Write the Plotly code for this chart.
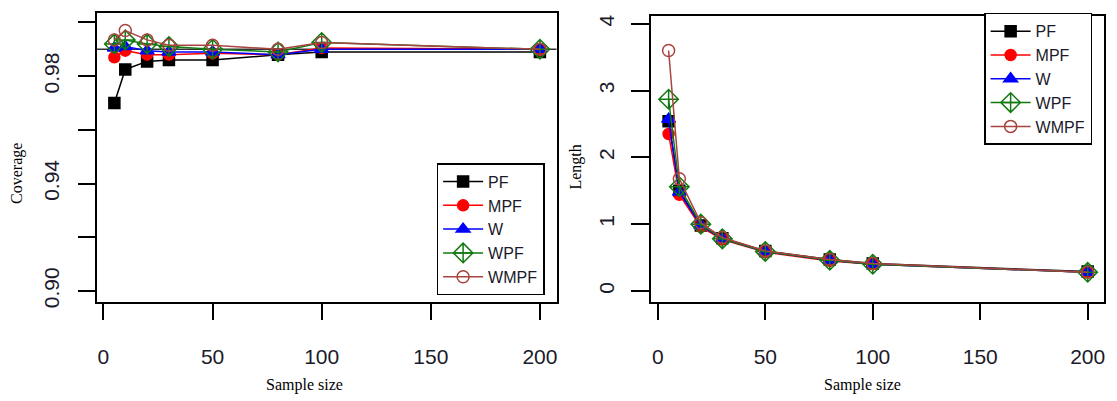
import plotly.graph_objects as go

# ---- data ----
sample_size = [5, 10, 20, 30, 50, 80, 100, 200]
methods = ["PF", "MPF", "W", "WPF", "WMPF"]

cov_PF = [0.970, 0.9825, 0.9855, 0.986, 0.986, 0.988, 0.989, 0.989]
cov_MPF = [0.987, 0.9895, 0.988, 0.988, 0.9885, 0.988, 0.9905, 0.990]
cov_W = [0.9905, 0.991, 0.9895, 0.989, 0.989, 0.988, 0.990, 0.990]
cov_WPF = [0.992, 0.9935, 0.992, 0.991, 0.990, 0.989, 0.9925, 0.990]
cov_WMPF = [0.9935, 0.997, 0.9935, 0.9915, 0.9915, 0.990, 0.9925, 0.990]

len_PF = [2.54, 1.50, 0.98, 0.79, 0.60, 0.47, 0.41, 0.29]
len_MPF = [2.35, 1.44, 0.96, 0.77, 0.58, 0.45, 0.40, 0.28]
len_W = [2.57, 1.48, 0.98, 0.78, 0.59, 0.46, 0.40, 0.28]
len_WPF = [2.87, 1.56, 1.00, 0.78, 0.59, 0.46, 0.40, 0.28]
len_WMPF = [3.60, 1.68, 1.02, 0.80, 0.60, 0.47, 0.41, 0.28]

nominal = 0.99

cov_ticks = [0.90, 0.92, 0.94, 0.96, 0.98, 1.00]
cov_ticktext = ["0.90", "", "0.94", "", "0.98", ""]
len_ticks = [0, 1, 2, 3, 4]
x_ticks = [0, 50, 100, 150, 200]

# ---- styles ----
colors = ["#000000", "#ff0000", "#0000ff", "#117a11", "#a8443f"]
symbols = ["square", "circle", "triangle-up", "diamond-cross-open", "circle-open"]
sizes = [11, 11, 12, 15, 12]

coverage = [cov_PF, cov_MPF, cov_W, cov_WPF, cov_WMPF]
length = [len_PF, len_MPF, len_W, len_WPF, len_WMPF]

fig = go.Figure()

for i, m in enumerate(methods):
    fig.add_trace(go.Scatter(
        x=sample_size, y=coverage[i], mode="lines+markers", name=m,
        line=dict(color=colors[i], width=1.5),
        marker=dict(symbol=symbols[i], size=sizes[i], color=colors[i],
                    line=dict(color=colors[i], width=1.5)),
        xaxis="x", yaxis="y", legend="legend"))

for i, m in enumerate(methods):
    fig.add_trace(go.Scatter(
        x=sample_size, y=length[i], mode="lines+markers", name=m,
        line=dict(color=colors[i], width=1.5),
        marker=dict(symbol=symbols[i], size=sizes[i], color=colors[i],
                    line=dict(color=colors[i], width=1.5)),
        xaxis="x2", yaxis="y2", legend="legend2"))

W, H = 1117, 401
tickfont = dict(family="Liberation Sans, Arial", size=21, color="#1a1a2a")

axis_common = dict(showgrid=False, zeroline=False, showline=True, mirror=True,
                   linecolor="black", linewidth=1.5, ticks="outside",
                   tickcolor="black", tickwidth=1.5, tickfont=tickfont)

fig.add_shape(type="line", xref="x domain", yref="y", x0=0, x1=1,
              y0=nominal, y1=nominal, line=dict(color="#333333", width=1.5),
              layer="below")

legend_font = dict(family="Liberation Sans, Arial", size=16, color="#1a1a2a")

fig.update_layout(
    width=W, height=H,
    margin=dict(l=0, r=0, t=0, b=0),
    paper_bgcolor="white", plot_bgcolor="white",
    xaxis=dict(domain=[97 / W, 557 / W], range=[-3, 207.6], tickvals=x_ticks,
               ticklen=17, ticklabelstandoff=18, anchor="y", **axis_common),
    yaxis=dict(domain=[(H - 306) / H, (H - 12) / H], range=[0.896, 1.0036],
               tickvals=cov_ticks, ticktext=cov_ticktext, tickangle=-90,
               ticklen=17, ticklabelstandoff=11, anchor="x", **axis_common),
    xaxis2=dict(domain=[652 / W, 1105 / W], range=[-3, 207.6], tickvals=x_ticks,
                ticklen=17, ticklabelstandoff=18, anchor="y2", **axis_common),
    yaxis2=dict(domain=[(H - 306) / H, (H - 15) / H], range=[-0.16, 4.12],
                tickvals=len_ticks, tickangle=-90, ticklen=19,
                ticklabelstandoff=8, anchor="x2", **axis_common),
    legend=dict(x=437 / W, y=(H - 165) / H, xanchor="left", yanchor="top",
                bordercolor="black", borderwidth=1.5, bgcolor="white",
                font=legend_font, tracegroupgap=0, itemwidth=40),
    legend2=dict(x=985 / W, y=(H - 12) / H, xanchor="left", yanchor="top",
                 bordercolor="black", borderwidth=1.5, bgcolor="white",
                 font=legend_font, tracegroupgap=0, itemwidth=40),
    showlegend=True,
)

serif = dict(family="Liberation Serif, Times New Roman", size=16, color="black")
fig.add_annotation(text="Coverage", xref="paper", yref="paper", x=17 / W,
                   y=(H - 175) / H, xanchor="center", yanchor="middle",
                   showarrow=False, textangle=-90, font=serif)
fig.add_annotation(text="Length", xref="paper", yref="paper", x=577 / W,
                   y=(H - 169) / H, xanchor="center", yanchor="middle",
                   showarrow=False, textangle=-90, font=serif)
fig.add_annotation(text="Sample size", xref="paper", yref="paper", x=305 / W,
                   y=(H - 391) / H, xanchor="center", yanchor="middle",
                   showarrow=False, font=serif)
fig.add_annotation(text="Sample size", xref="paper", yref="paper", x=863 / W,
                   y=(H - 391) / H, xanchor="center", yanchor="middle",
                   showarrow=False, font=serif)

fig.write_html("out.html", config={"displayModeBar": False},
               post_script="document.body.style.margin='0px';"
                           "document.body.style.overflow='hidden';")
